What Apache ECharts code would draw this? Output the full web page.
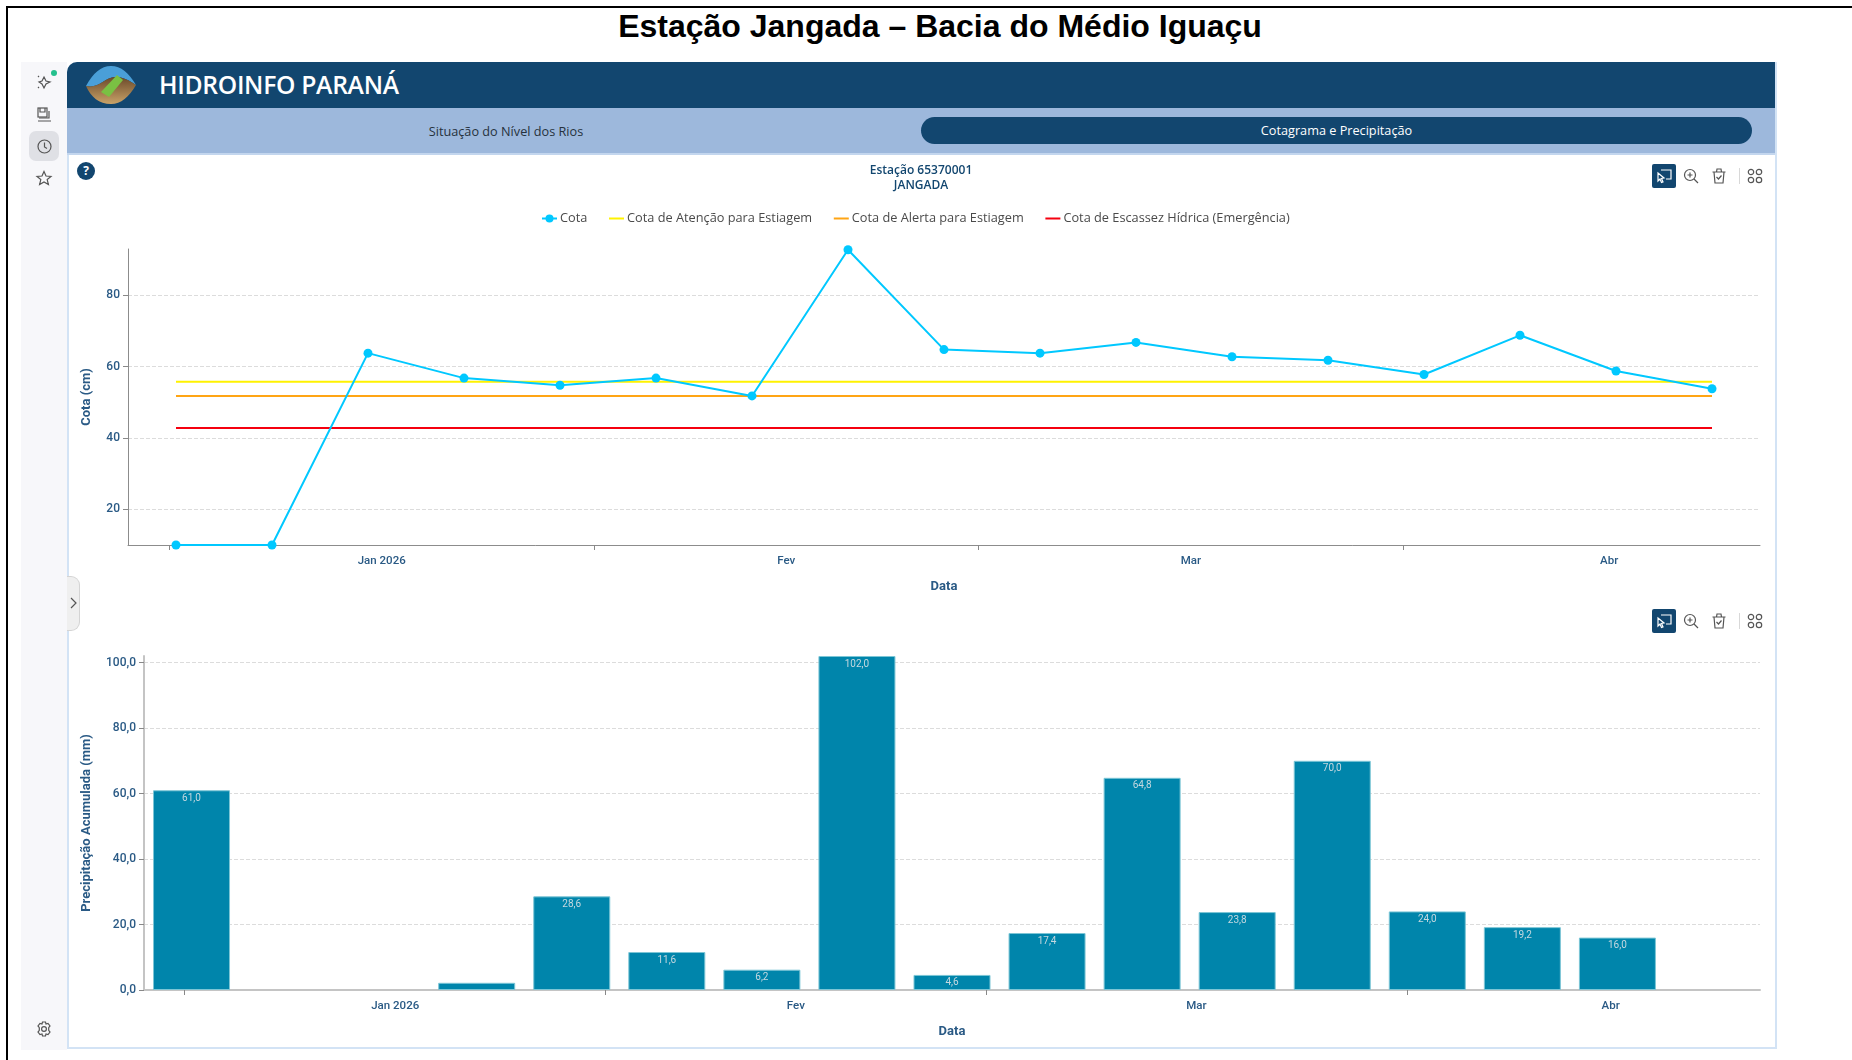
<!DOCTYPE html>
<html lang="pt">
<head>
<meta charset="utf-8">
<title>Estação Jangada – Bacia do Médio Iguaçu</title>
<script src="https://cdn.jsdelivr.net/npm/echarts@6/dist/echarts.min.js"></script>
<style>
html, body { margin: 0; padding: 0; background: #fff; width: 1852px; height: 1060px; overflow: hidden; font-family: "Open Sans", sans-serif; }
.abs { position: absolute; }
#chart { position: absolute; left: 0; top: 0; width: 1852px; height: 1060px; z-index: 5; }
#frameTop { left: 6px; top: 6px; width: 1846px; height: 2px; background: #000; }
#frameLeft { left: 6px; top: 6px; width: 2px; height: 1054px; background: #000; }
#pageTitle { left: 0; width: 1880px; top: 7px; text-align: center; font: bold 32px "Liberation Sans", Arial, sans-serif; color: #000; line-height: 38px; }
#sidebar { left: 21px; top: 62px; width: 46px; height: 988px; background: #f7f7fa; }
#panel { left: 67px; top: 62px; width: 1706px; height: 985px; border: 2px solid #d3e3f5; border-top: 0; border-radius: 10px 0 0 0; background: #fff; }
#header { left: 67px; top: 62px; width: 1708px; height: 46px; background: #12466f; border-radius: 10px 0 0 0; color: #fff; }
#header span { position: absolute; left: 92px; top: 0; line-height: 46px; font-size: 24.7px; font-weight: 600; letter-spacing: -0.3px; }
#tabs { left: 67px; top: 108px; width: 1708px; height: 47px; background: #9db8dc; border-bottom: 2px solid #c3d6ee; box-sizing: border-box; }
#tab1 { left: 356px; top: 116.5px; width: 300px; text-align: center; line-height: 28px; font-size: 12.7px; color: #26323d; }
#tab2 { left: 921px; top: 117px; width: 831px; height: 27px; border-radius: 14px; background: #12466f; color: #fff; text-align: center; line-height: 27px; font-size: 12.7px; }
#help { left: 77px; top: 162px; width: 18px; height: 18px; border-radius: 50%; background: #12466f; color: #fff; font: bold 12px/18px "Open Sans", sans-serif; text-align: center; }
#handle { left: 67px; top: 576px; width: 12px; height: 53px; background: #efefef; border: 1px solid #d4d4d4; border-left: 0; border-radius: 0 9px 9px 0; }
#activeSide { left: 29px; top: 131px; width: 30px; height: 30px; border-radius: 7px; background: #dfe0e5; }
#greenDot { left: 51px; top: 70px; width: 6px; height: 6px; border-radius: 50%; background: #25c08d; }
.active { width: 24px; height: 24px; background: #12466f; border-radius: 2px; }
.sep { width: 1px; height: 16px; background: #d8d8d8; }
svg.abs { fill: none; stroke: #555; stroke-width: 1.2; overflow: visible; }
</style>
</head>
<body>
<div id="frameTop" class="abs"></div>
<div id="frameLeft" class="abs"></div>
<div id="pageTitle" class="abs">Estação Jangada – Bacia do Médio Iguaçu</div>

<div id="sidebar" class="abs"></div>
<div id="panel" class="abs"></div>
<div id="header" class="abs"><span>HIDROINFO PARANÁ</span></div>
<svg class="abs" style="left:85px;top:65px;stroke:none" width="52" height="40" viewBox="0 0 52 40">
	<defs><linearGradient id="chao" x1="0" y1="0" x2="0" y2="1"><stop offset="0" stop-color="#6b4a2a"/><stop offset="1" stop-color="#c9a268"/></linearGradient></defs>
	<path d="M1 21 C8 8 16 1 26 1 C36 1 44 8 51 20 C44 15 38 12 30 12 C20 12 14 24 1 21Z" fill="#4a9fd8"/>
	<path d="M1 21 C14 24 20 12 30 12 C38 12 44 15 51 20 C44 32 36 39 26 39 C14 39 6 32 1 21Z" fill="url(#chao)"/>
	<path d="M16 27 L32 10 L38 15 L24 32Z" fill="#7ac143"/>
</svg>
<div id="tabs" class="abs"></div>
<div id="tab1" class="abs">Situação do Nível dos Rios</div>
<div id="tab2" class="abs">Cotagrama e Precipitação</div>
<div id="help" class="abs">?</div>
<div id="handle" class="abs"></div>
<svg class="abs" style="left:70px;top:597px" width="8" height="12"><path d="M1 1 L6 6 L1 11"/></svg>

<div id="activeSide" class="abs"></div>
<div id="greenDot" class="abs"></div>
<svg class="abs" style="left:36px;top:74px" width="16" height="16" viewBox="0 0 16 16"><path d="M8 3 L10 7 L14 8 L10 10 L8 14 L6 10 L3 8 L6 7Z"/><path d="M2 2 L3 3 M2 13 L3 14"/></svg>
<svg class="abs" style="left:37px;top:107px" width="15" height="15" viewBox="0 0 15 15"><rect x="1" y="1" width="9" height="9"/><path d="M3 1 V5 H8 V1 M12 4 V11 H2 M1 14 H14"/></svg>
<svg class="abs" style="left:37px;top:139px" width="15" height="15" viewBox="0 0 15 15"><circle cx="7.5" cy="7.5" r="6.5"/><path d="M7.5 3.5 V8 L10 9.5"/></svg>
<svg class="abs" style="left:36px;top:170px" width="16" height="16" viewBox="0 0 16 16"><path d="M8 1.5 L10 6 L15 6.5 L11.2 9.6 L12.4 14.5 L8 12 L3.6 14.5 L4.8 9.6 L1 6.5 L6 6Z"/></svg>
<svg class="abs" style="left:36px;top:1021px" width="16" height="16" viewBox="0 0 16 16"><circle cx="8" cy="8" r="2.4"/><path d="M6.5 1 H9.5 L10 3 L12 2.5 L14 5 L12.7 6.6 V9.4 L14 11 L12 13.5 L10 13 L9.5 15 H6.5 L6 13 L4 13.5 L2 11 L3.3 9.4 V6.6 L2 5 L4 2.5 L6 3Z"/></svg>

<!-- barras de ferramentas dos dois graficos -->
<div class="abs active" style="left:1652px;top:164px"></div>
<svg class="abs" style="left:1656px;top:168px;stroke:#fff" width="16" height="16" viewBox="0 0 16 16"><path d="M5 2 H15 V11 H10"/><path d="M2 5 L8 10 L5.5 10.5 L7 14 L5.5 14.5 L4 11 L2 13Z"/></svg>
<svg class="abs" style="left:1683px;top:168px" width="16" height="16" viewBox="0 0 16 16"><circle cx="7" cy="7" r="5.5"/><path d="M4.5 7 H9.5 M7 4.5 V9.5 M11 11 L15 15"/></svg>
<svg class="abs" style="left:1711px;top:168px" width="16" height="16" viewBox="0 0 16 16"><path d="M1.5 4 H14.5 M5.5 4 L6 1 H10 L10.5 4 M3 4 L4 15 H12 L13 4 M5.5 9 L7.5 11 L10.5 7.5"/></svg>
<div class="abs sep" style="left:1739px;top:168px"></div>
<svg class="abs" style="left:1747px;top:168px" width="16" height="16" viewBox="0 0 16 16"><circle cx="4" cy="4" r="2.7"/><circle cx="12" cy="4" r="2.7"/><circle cx="4" cy="12" r="2.7"/><circle cx="12" cy="12" r="2.7"/></svg>

<div class="abs active" style="left:1652px;top:609px"></div>
<svg class="abs" style="left:1656px;top:613px;stroke:#fff" width="16" height="16" viewBox="0 0 16 16"><path d="M5 2 H15 V11 H10"/><path d="M2 5 L8 10 L5.5 10.5 L7 14 L5.5 14.5 L4 11 L2 13Z"/></svg>
<svg class="abs" style="left:1683px;top:613px" width="16" height="16" viewBox="0 0 16 16"><circle cx="7" cy="7" r="5.5"/><path d="M4.5 7 H9.5 M7 4.5 V9.5 M11 11 L15 15"/></svg>
<svg class="abs" style="left:1711px;top:613px" width="16" height="16" viewBox="0 0 16 16"><path d="M1.5 4 H14.5 M5.5 4 L6 1 H10 L10.5 4 M3 4 L4 15 H12 L13 4 M5.5 9 L7.5 11 L10.5 7.5"/></svg>
<div class="abs sep" style="left:1739px;top:613px"></div>
<svg class="abs" style="left:1747px;top:613px" width="16" height="16" viewBox="0 0 16 16"><circle cx="4" cy="4" r="2.7"/><circle cx="12" cy="4" r="2.7"/><circle cx="4" cy="12" r="2.7"/><circle cx="12" cy="12" r="2.7"/></svg>

<div id="chart"></div>

<script>
// semanas (centro de cada semana), os dois graficos usam as mesmas datas
var weekDates = ['2026-01-01T12:00:00Z', '2026-01-08T12:00:00Z', '2026-01-15T12:00:00Z', '2026-01-22T12:00:00Z', '2026-01-29T12:00:00Z',
	'2026-02-05T12:00:00Z', '2026-02-12T12:00:00Z', '2026-02-19T12:00:00Z', '2026-02-26T12:00:00Z',
	'2026-03-05T12:00:00Z', '2026-03-12T12:00:00Z', '2026-03-19T12:00:00Z', '2026-03-26T12:00:00Z',
	'2026-04-02T12:00:00Z', '2026-04-09T12:00:00Z', '2026-04-16T12:00:00Z', '2026-04-23T12:00:00Z'];
var cotaValues = [10, 10, 63.8, 56.8, 54.8, 56.8, 51.8, 92.8, 64.8, 63.8, 66.8, 62.8, 61.8, 57.8, 68.8, 58.8, 53.8];
var atencaoValues = [55.8, 55.8, 55.8, 55.8, 55.8, 55.8, 55.8, 55.8, 55.8, 55.8, 55.8, 55.8, 55.8, 55.8, 55.8, 55.8, 55.8];
var alertaValues = [51.8, 51.8, 51.8, 51.8, 51.8, 51.8, 51.8, 51.8, 51.8, 51.8, 51.8, 51.8, 51.8, 51.8, 51.8, 51.8, 51.8];
var escassezValues = [42.8, 42.8, 42.8, 42.8, 42.8, 42.8, 42.8, 42.8, 42.8, 42.8, 42.8, 42.8, 42.8, 42.8, 42.8, 42.8, 42.8];
var chuvaValues = [61.0, null, null, 2.2, 28.6, 11.6, 6.2, 102.0, 4.6, 17.4, 64.8, 23.8, 70.0, 24.0, 19.2, 16.0, null];

var cotaTicks = [20, 40, 60, 80];
var chuvaTicks = [0, 20, 40, 60, 80, 100];
var monthStarts = ['2026-01-01T00:00:00Z', '2026-02-01T00:00:00Z', '2026-03-01T00:00:00Z', '2026-04-01T00:00:00Z'];
var monthMiddles = ['2026-01-16T12:00:00Z', '2026-02-15T00:00:00Z', '2026-03-16T12:00:00Z', '2026-04-16T00:00:00Z'];
var monthNames = ['Jan 2026', 'Fev', 'Mar', 'Abr'];

var axisBlue = '#2a5a85';
// so a linha, sem o circulo que o eixo de linha poe na legenda
var lineIcon = 'path://M0 0L0 0M0 4H15V6H0ZM15 10L15 10';

// o eixo e numerico em milissegundos: customValues nao funciona em eixo time
function ms(text) {
	return Date.parse(text);
}

function pairs(values) {
	return values.map(function (v, i) { return [ms(weekDates[i]), v]; });
}

function monthLabel(value) {
	return monthNames[new Date(value).getUTCMonth()];
}

function makeXAxis(gridIndex, lineColor, lineWidth, labelMargin, nameGap) {
	return {
		type: 'value',
		gridIndex: gridIndex,
		min: ms('2025-12-29T00:00:00Z'),
		max: ms('2026-04-27T00:00:00Z'),
		name: 'Data',
		nameLocation: 'middle',
		nameGap: nameGap,
		nameTextStyle: { color: axisBlue, fontFamily: 'Roboto', fontWeight: 'bold', fontSize: 13 },
		axisLine: { lineStyle: { color: lineColor, width: lineWidth } },
		axisTick: { show: true, length: 5, customValues: monthStarts.map(ms), lineStyle: { color: '#888' } },
		axisLabel: {
			customValues: monthMiddles.map(ms),
			formatter: monthLabel,
			color: axisBlue,
			fontFamily: 'Roboto',
			fontWeight: 500,
			fontSize: 11.5,
			margin: labelMargin,
			hideOverlap: false
		},
		splitLine: { show: false }
	};
}

function makeYAxis(gridIndex, name, gap, ticks, min, max, lineColor, lineWidth, fmt) {
	return {
		type: 'value',
		gridIndex: gridIndex,
		min: min,
		max: max,
		name: name,
		nameLocation: 'middle',
		nameGap: gap,
		nameTextStyle: { color: axisBlue, fontFamily: 'Roboto', fontWeight: 'bold', fontSize: 13 },
		axisLine: { show: true, lineStyle: { color: lineColor, width: lineWidth } },
		axisTick: { show: true, length: 5, customValues: ticks, lineStyle: { color: '#888' } },
		axisLabel: { customValues: ticks, formatter: fmt, color: axisBlue, fontFamily: 'Roboto', fontWeight: 500, fontSize: 12, margin: 8 },
		splitLine: { show: true, lineStyle: { type: 'dashed', color: '#dcdcdc' } }
	};
}

function limitLine(name, values, color) {
	return {
		name: name,
		type: 'line',
		xAxisIndex: 0,
		yAxisIndex: 0,
		data: pairs(values),
		showSymbol: false,
		symbol: 'none',
		itemStyle: { color: color },
		lineStyle: { color: color, width: 2 }
	};
}

var option = {
	animation: false,
	backgroundColor: 'transparent',
	title: {
		text: 'Estação 65370001\nJANGADA',
		left: 916,
		top: 157.5,
		textAlign: 'center',
		textStyle: { color: '#12466f', fontFamily: 'Open Sans', fontWeight: 600, fontSize: 12, lineHeight: 15.5 }
	},
	legend: {
		left: 536,
		top: 207,
		itemWidth: 15,
		itemHeight: 10,
		itemGap: 21.7,
		textStyle: { color: '#4a4a4a', fontFamily: 'Open Sans', fontSize: 12.75, padding: [0, 0, 0, -2] },
		data: [
			{ name: 'Cota' },
			{ name: 'Cota de Atenção para Estiagem', icon: lineIcon },
			{ name: 'Cota de Alerta para Estiagem', icon: lineIcon },
			{ name: 'Cota de Escassez Hídrica (Emergência)', icon: lineIcon }
		]
	},
	grid: [
		{ left: 128, top: 249, width: 1632, height: 296 },
		{ left: 144, top: 656, width: 1616, height: 334 }
	],
	xAxis: [makeXAxis(0, '#8c8c8c', 1, 10, 35), makeXAxis(1, '#c4c4c4', 2, 10.5, 35)],
	yAxis: [
		makeYAxis(0, 'Cota (cm)', 35, cotaTicks, 10, 93, '#8c8c8c', 1, function (v) { return String(v); }),
		makeYAxis(1, 'Precipitação Acumulada (mm)', 51, chuvaTicks, 0, 102, '#c4c4c4', 2, function (v) { return v.toFixed(1).replace('.', ','); })
	],
	series: [
		limitLine('Cota de Atenção para Estiagem', atencaoValues, '#fff200'),
		limitLine('Cota de Alerta para Estiagem', alertaValues, '#ffa514'),
		limitLine('Cota de Escassez Hídrica (Emergência)', escassezValues, '#f5000f'),
		{
			name: 'Cota',
			type: 'line',
			xAxisIndex: 0,
			yAxisIndex: 0,
			data: pairs(cotaValues),
			symbol: 'circle',
			symbolSize: 9,
			clip: false,
			z: 5,
			itemStyle: { color: '#00c8ff' },
			lineStyle: { color: '#00c8ff', width: 2 }
		},
		{
			name: 'Precipitação',
			type: 'bar',
			xAxisIndex: 1,
			yAxisIndex: 1,
			data: pairs(chuvaValues),
			barWidth: 77,
			itemStyle: { color: '#0085ab', borderColor: '#7cc6d6', borderWidth: 1 },
			label: {
				show: true,
				position: 'insideTop',
				distance: 3,
				color: '#c5d8df',
				fontFamily: 'Roboto',
				fontSize: 10,
				formatter: function (p) {
					// a barra muito baixa fica sem rotulo
					return p.value[1] < 3 ? '' : p.value[1].toFixed(1).replace('.', ',');
				}
			}
		}
	]
};

var myChart = echarts.init(document.getElementById('chart'));
myChart.setOption(option);
</script>
</body>
</html>
